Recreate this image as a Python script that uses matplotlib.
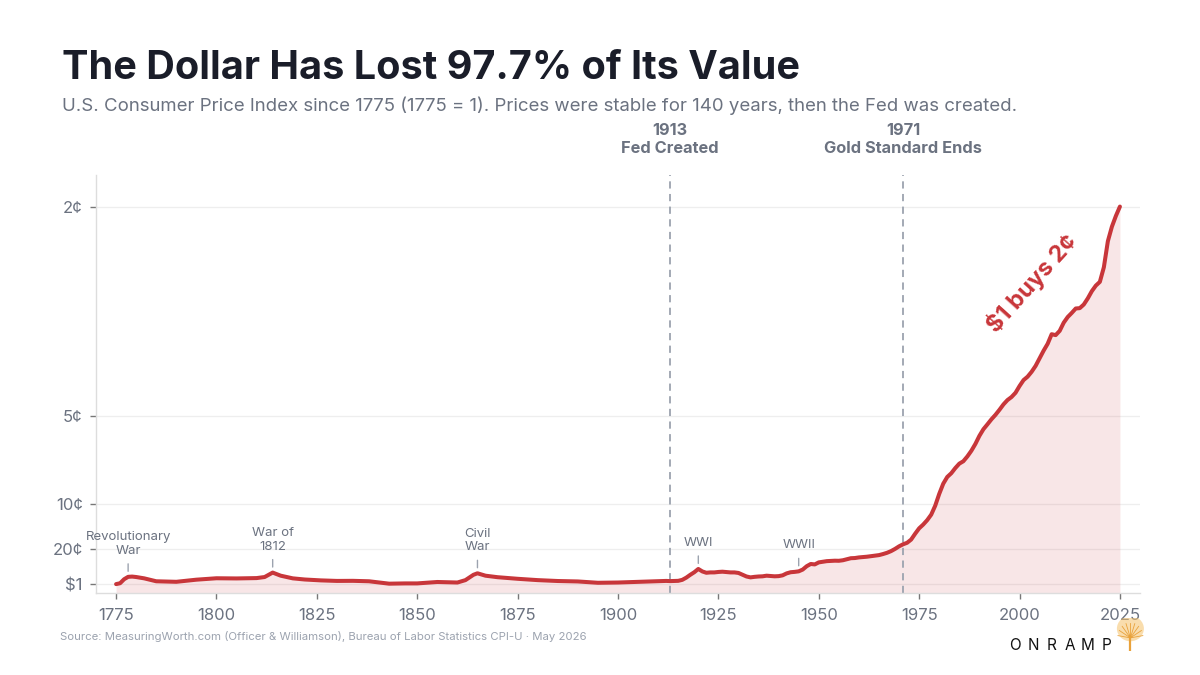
import numpy as np
import matplotlib
matplotlib.use("Agg")
import matplotlib.pyplot as plt
from matplotlib.lines import Line2D
from matplotlib.patches import Circle

plt.rcParams['font.family'] = ['Inter', 'DejaVu Sans']

# CPI index, 1775 = 1 (pre-1913, later from annual CPI-U)
early_years = [1775, 1776, 1777, 1778, 1779, 1780, 1782, 1785, 1790, 1795,
               1800, 1805, 1810, 1812, 1814, 1816, 1819, 1822, 1826, 1830,
               1834, 1838, 1843, 1847, 1850, 1855, 1860, 1862, 1864, 1865,
               1867, 1870, 1875, 1880, 1885, 1890, 1895, 1900, 1905, 1910, 1912]
early_index = [1.00, 1.10, 1.55, 1.82, 1.85, 1.80, 1.65, 1.32, 1.26, 1.50,
               1.66, 1.64, 1.68, 1.80, 2.30, 1.95, 1.65, 1.52, 1.42, 1.36,
               1.37, 1.32, 1.05, 1.08, 1.08, 1.24, 1.18, 1.45, 2.05, 2.22,
               1.95, 1.78, 1.60, 1.45, 1.35, 1.30, 1.15, 1.18, 1.25, 1.33, 1.36]

modern_years = list(range(1913, 2026))
modern_index = [1.34, 1.36, 1.37, 1.48, 1.73, 2.05, 2.34, 2.71, 2.43, 2.28,
                2.32, 2.32, 2.37, 2.40, 2.36, 2.32, 2.32, 2.26, 2.06, 1.86,
                1.76, 1.82, 1.86, 1.88, 1.95, 1.91, 1.88, 1.90, 1.99, 2.21,
                2.34, 2.38, 2.44, 2.64, 3.02, 3.27, 3.22, 3.45, 3.52, 3.59,
                3.62, 3.64, 3.63, 3.69, 3.81, 3.92, 3.94, 4.01, 4.05, 4.09,
                4.15, 4.20, 4.27, 4.39, 4.53, 4.72, 4.97, 5.26, 5.49, 5.66,
                6.02, 6.68, 7.29, 7.71, 8.21, 8.83, 9.84, 11.17, 12.32, 13.08,
                13.50, 14.08, 14.58, 14.85, 15.39, 16.03, 16.80, 17.71, 18.46, 19.01,
                19.58, 20.08, 20.65, 21.26, 21.75, 22.09, 22.57, 23.33, 24.00, 24.38,
                24.93, 25.60, 26.46, 27.32, 28.09, 29.17, 29.07, 29.55, 30.47, 31.11,
                31.57, 32.07, 32.11, 32.52, 33.21, 34.02, 34.65, 35.07, 36.72, 39.66,
                41.29, 42.51, 43.56]

years = np.array(early_years + modern_years)
index = np.array(early_index + modern_index)

ytick_vals = [1, 5, 10, 20, 43.56]
ytick_labels = ['$1', '20¢', '10¢', '5¢', '2¢']
xtick_vals = list(range(1775, 2026, 25))

events = [(1778, 'Revolutionary\nWar'), (1814, 'War of\n1812'), (1865, 'Civil\nWar'),
          (1920, 'WWI'), (1945, 'WWII')]
milestones = [(1913, '1913\nFed Created'), (1971, '1971\nGold Standard Ends')]

RED = '#c8363a'
GRAY = '#6b7280'

fig = plt.figure(figsize=(12, 6.75), dpi=100)
fig.patch.set_facecolor('white')
ax = fig.add_axes([0.08, 0.1215, 0.87, 0.619])

ax.fill_between(years, 0, index, color=RED, alpha=0.12, lw=0)
ax.plot(years, index, color=RED, lw=2.9, solid_capstyle='round', solid_joinstyle='round', zorder=3)

ax.set_xlim(1770, 2030)
ax.set_ylim(0, 47.1)
ax.set_xticks(xtick_vals)
ax.set_yticks(ytick_vals)
ax.set_yticklabels(ytick_labels)
ax.grid(axis='y', color='#eeeeee', lw=0.9)
ax.set_axisbelow(True)
for s in ['top', 'right']:
    ax.spines[s].set_visible(False)
for s in ['left', 'bottom']:
    ax.spines[s].set_color('#dddddd')
    ax.spines[s].set_linewidth(1.0)
ax.tick_params(axis='both', colors='#777777', labelcolor=GRAY, labelsize=12, length=4.5, width=1)
ax.tick_params(axis='y', pad=5)
ax.tick_params(axis='x', pad=6)

for yr, lab in milestones:
    ax.axvline(yr, color='#9ca3af', lw=1.3, dashes=(4, 3), zorder=2)
    ax.annotate(lab, xy=(yr, 0.793), xycoords=('data', 'figure fraction'),
                ha='center', va='center', fontsize=11.8, fontweight='bold',
                color=GRAY, linespacing=1.25)

idx_lookup = dict(zip(years.tolist(), index.tolist()))
for yr, lab in events:
    v = idx_lookup[yr]
    ax.annotate('', xy=(yr, v), xycoords='data', xytext=(0, 13),
                textcoords='offset pixels',
                arrowprops=dict(arrowstyle='-', color='#9ca3af', lw=1,
                                shrinkA=0, shrinkB=4))
    ax.annotate(lab, xy=(yr, v), xycoords='data', xytext=(0, 20),
                textcoords='offset pixels', ha='center', va='bottom',
                fontsize=9.5, color=GRAY, linespacing=1.15)

ax.text(2003, 34.9, '$1 buys 2¢', rotation=48, ha='center', va='center',
        fontsize=17, fontweight='bold', color=RED, rotation_mode='anchor')

fig.text(0.052, 0.899, 'The Dollar Has Lost 97.7% of Its Value', fontsize=28.5,
         fontweight='bold', color='#1a1d29', va='center')
fig.text(0.052, 0.843, 'U.S. Consumer Price Index since 1775 (1775 = 1). Prices were stable for 140 years, then the Fed was created.',
         fontsize=13.4, color=GRAY, va='center')
fig.text(0.05, 0.057, 'Source: MeasuringWorth.com (Officer & Williamson), Bureau of Labor Statistics CPI-U · May 2026',
         fontsize=8.2, color='#9ca3af', va='center')

# logo
for i, ch in enumerate('ONRAMP'):
    fig.text(0.8455 + i * 0.0153, 0.043, ch, fontsize=11, color='#111111',
             ha='center', va='center')
lax = fig.add_axes([0.927, 0.035, 0.03, 0.05])
lax.set_xlim(-1, 1)
lax.set_ylim(-1, 1)
lax.axis('off')
lax.add_patch(Circle((0, 0.35), 0.75, color='#f5c26b', alpha=0.55, lw=0))
for a in np.linspace(0.15, np.pi - 0.15, 9):
    lax.add_line(Line2D([0, 0.7 * np.cos(a)], [-0.2, -0.2 + 0.9 * np.sin(a)],
                        color='#e9a23b', lw=0.6))
lax.add_line(Line2D([0, 0], [-1, -0.1], color='#e9a23b', lw=1.6))

fig.savefig('out.png', dpi=100, facecolor='white')
